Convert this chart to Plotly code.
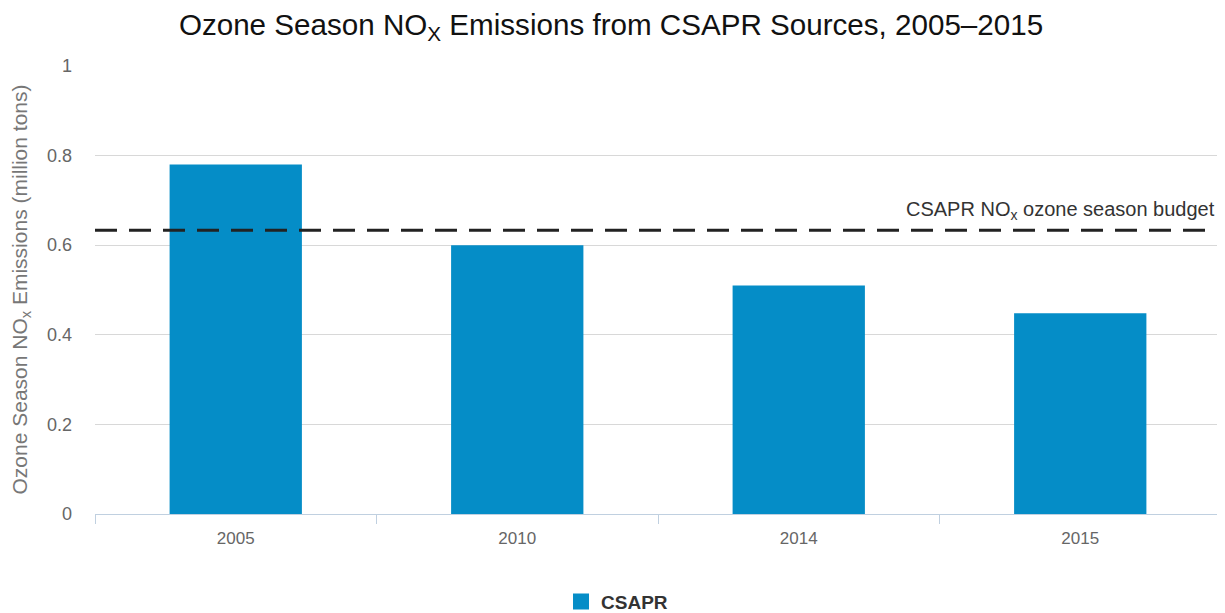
import plotly.graph_objects as go

years = ["2005", "2010", "2014", "2015"]
emissions = [0.78, 0.60, 0.51, 0.448]
budget = 0.633
series_name = "CSAPR"

FONT = "Liberation Sans, Arial, sans-serif"

fig = go.Figure()
fig.add_trace(go.Bar(
    x=list(range(len(years))), y=emissions, name=series_name,
    marker=dict(color="#058DC7", line=dict(width=0)),
    hoverinfo="y", showlegend=False,
))
# legend proxy with a larger square symbol
fig.add_trace(go.Scatter(
    x=[None], y=[None], mode="markers", name="<b>" + series_name + "</b>",
    marker=dict(symbol="square", size=16, color="#058DC7"), showlegend=True,
))
# invisible trace on overlay axis for category boundary ticks
fig.add_trace(go.Scatter(x=[-0.5, len(years) - 0.5], y=[0, 0], xaxis="x2",
                         mode="markers", marker=dict(opacity=0), showlegend=False,
                         hoverinfo="skip"))

fig.add_shape(type="line", xref="paper", x0=0, x1=1, yref="y", y0=budget, y1=budget,
              line=dict(color="#222222", width=3, dash="22px,12px"), layer="above")
fig.add_annotation(xref="paper", x=0.9965, yref="y", y=budget, yshift=5,
                   text="CSAPR NO<sub>x</sub> ozone season budget", showarrow=False,
                   xanchor="right", yanchor="bottom",
                   font=dict(family=FONT, size=20, color="#333333"))

fig.update_layout(
    width=1217, height=605,
    margin=dict(l=87, r=4, t=57, b=99, autoexpand=False),
    paper_bgcolor="white", plot_bgcolor="white",
    bargap=0.53,
    title=dict(text="Ozone Season NO<sub>X</sub> Emissions from CSAPR Sources, 2005–2015",
               x=0.4955, xanchor="center", y=0.973, yanchor="middle",
               font=dict(family=FONT, size=29.6, color="#111111")),
    xaxis=dict(range=[-0.5, len(years) - 0.5], tickvals=list(range(len(years))),
               ticktext=years, showgrid=False, zeroline=False, automargin=False,
               showline=True, linecolor="#C0D0E0", linewidth=1,
               ticks="", tickfont=dict(family=FONT, size=17, color="#666666"),
               ticklabelstandoff=9),
    xaxis2=dict(overlaying="x", matches="x", range=[-0.5, len(years) - 0.5],
                tickvals=[i - 0.5 for i in range(len(years) + 1)], automargin=False,
                showticklabels=False, ticks="outside", ticklen=9, tickcolor="#C0D0E0",
                tickwidth=1, showgrid=False, zeroline=False, showline=False),
    yaxis=dict(range=[0, 1.002], tickvals=[0, 0.2, 0.4, 0.6, 0.8, 1],
               ticktext=["0", "0.2", "0.4", "0.6", "0.8", "1"], automargin=False,
               showgrid=True, gridcolor="#D8D8D8", gridwidth=1, zeroline=False,
               showline=False, ticks="", ticklabelstandoff=22,
               tickfont=dict(family=FONT, size=18, color="#666666"),
               title=dict(text="Ozone Season NO<sub>x</sub> Emissions (million tons)",
                          font=dict(family=FONT, size=21, color="#777777"), standoff=17)),
    showlegend=True,
    legend=dict(orientation="h", x=0.4636, xanchor="center", y=-0.195, yanchor="middle",
                font=dict(family=FONT, size=19, color="#333333"),
                itemsizing="trace"),
)

fig.write_html("out.html")
